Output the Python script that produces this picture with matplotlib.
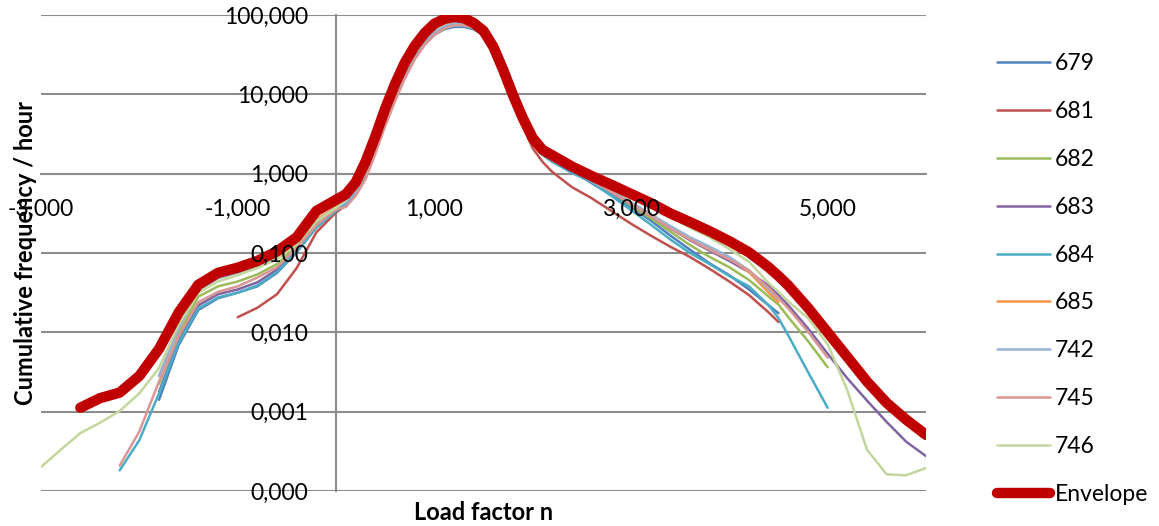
import numpy as np
import matplotlib
matplotlib.use("Agg")
import matplotlib.pyplot as plt
from matplotlib.ticker import FixedLocator, FuncFormatter, NullLocator

# Load factor grid shared by all series (None = no data at that point)
load_factor = [-3.0, -2.8, -2.6, -2.4, -2.2, -2.0, -1.8, -1.6, -1.4, -1.2, -1.0, -0.8, -0.6, -0.4, -0.2, 0.0,
               0.1, 0.2, 0.3, 0.4, 0.5, 0.6, 0.7, 0.8, 0.9, 1.0, 1.1, 1.2, 1.3, 1.4, 1.5, 1.6, 1.7, 1.8, 1.9, 2.0, 2.1, 2.2,
               2.4, 2.6, 2.8, 3.0, 3.2, 3.4, 3.6, 3.8, 4.0, 4.2, 4.4,
               4.5, 4.6, 4.8, 5.0, 5.2, 5.4, 5.6, 5.8, 6.0]

s679 = [None, None, None, None, None, None, 0.00141, 0.00692, 0.0191, 0.0269, 0.0316, 0.038, 0.0562, 0.102, 0.209, 0.339,
        0.398, 0.55, 0.912, 1.95, 4.37, 8.91, 17.0, 28.8, 42.7, 56.2, 66.1, 70.8, 70.8, 66.1, 55.6, 38.0, 20.0, 9.33, 4.57, 2.51, 1.74, 1.41,
        1.10, 0.759, 0.537, 0.38, 0.257, 0.166, 0.110, 0.0741, 0.0525, 0.0347, 0.0219,
        0.0174, None, None, None, None, None, None, None, None]

s681 = [None, None, None, None, None, None, None, None, None, None, 0.0155, 0.0204, 0.0302, 0.0646, 0.182, 0.324,
        0.398, 0.55, 0.912, 1.95, 4.37, 8.91, 17.0, 28.8, 43.7, 58.9, 69.2, 74.1, 73.3, 67.6, 56.2, 38.0, 19.5, 8.91, 3.98, 2.09, 1.41, 1.05,
        0.676, 0.49, 0.339, 0.234, 0.166, 0.12, 0.0891, 0.0631, 0.0437, 0.0295, 0.0178,
        0.0135, None, None, None, None, None, None, None, None]

s682 = [None, None, None, None, None, None, 0.00224, 0.00955, 0.0282, 0.038, 0.0437, 0.0537, 0.0724, 0.12, 0.234, 0.363,
        0.457, 0.631, 1.05, 2.24, 5.01, 10.2, 19.5, 33.1, 49.0, 64.6, 75.9, 82.2, 81.3, 75.0, 60.3, 38.9, 20.0, 9.55, 4.68, 2.63, 1.86, 1.48,
        1.12, 0.832, 0.589, 0.398, 0.275, 0.186, 0.126, 0.0891, 0.0661, 0.0457, 0.0282,
        0.0224, 0.0155, 0.00776, 0.00363, None, None, None, None, None]

s683 = [None, None, None, None, None, None, 0.00178, 0.00794, 0.0219, 0.0302, 0.0347, 0.0427, 0.0617, 0.110, 0.219, 0.347,
        0.427, 0.589, 0.977, 2.09, 4.68, 9.55, 18.2, 30.9, 45.7, 60.3, 70.8, 76.7, 75.9, 70.8, 58.9, 38.9, 20.0, 9.55, 4.68, 2.63, 1.86, 1.48,
        1.12, 0.813, 0.589, 0.417, 0.295, 0.204, 0.145, 0.107, 0.0794, 0.0575, 0.0389,
        0.0295, 0.0219, 0.0112, 0.00537, 0.00263, 0.00138, 0.000741, 0.000417, 0.000275]

s684 = [None, None, None, None, 0.000182, 0.000437, 0.0017, 0.00741, 0.02, 0.0275, 0.0316, 0.0389, 0.0575, 0.105, 0.209, 0.339,
        0.407, 0.562, 0.933, 2.0, 4.47, 9.12, 17.4, 29.5, 43.7, 57.5, 67.6, 73.3, 72.4, 67.6, 56.2, 38.0, 20.0, 9.33, 4.57, 2.51, 1.74, 1.41,
        1.02, 0.78, 0.525, 0.347, 0.229, 0.148, 0.100, 0.0724, 0.0513, 0.038, 0.0219,
        0.0151, 0.00912, 0.00316, 0.00112, None, None, None, None, None]

s685 = [None, None, None, None, None, None, 0.00282, 0.0112, 0.0347, 0.049, 0.0575, 0.0692, 0.0891, 0.138, 0.263, 0.38,
        0.447, 0.617, 1.02, 2.19, 4.90, 10.0, 19.1, 32.4, 47.9, 63.1, 74.1, 80.4, 79.4, 74.1, 60.3, 38.9, 20.0, 9.55, 4.68, 2.63, 1.86, 1.48,
        1.12, 0.832, 0.603, 0.427, 0.302, 0.214, 0.155, 0.117, 0.0871, 0.0575, 0.0316,
        0.024, None, None, None, None, None, None, None, None]

s742 = [None, None, None, None, None, None, 0.00282, 0.0112, 0.0339, 0.0479, 0.0562, 0.0676, 0.0851, 0.132, 0.251, 0.372,
        0.437, 0.603, 1.00, 2.14, 4.79, 9.77, 18.6, 31.6, 46.8, 61.7, 72.4, 78.5, 77.6, 72.4, 60.3, 38.9, 20.0, 9.55, 4.68, 2.63, 1.91, 1.51,
        1.15, 0.851, 0.617, 0.437, 0.309, 0.219, 0.158, 0.120, 0.0891, 0.0603, 0.0347,
        0.0263, None, None, None, None, None, None, None, None]

s745 = [None, None, None, None, 0.000209, 0.000562, 0.0024, 0.00891, 0.024, 0.0324, 0.038, 0.049, 0.0661, 0.115, 0.224, 0.355,
        0.38, 0.525, 0.851, 1.78, 3.98, 8.13, 15.8, 27.5, 41.7, 56.2, 67.6, 74.1, 74.1, 69.2, 57.5, 38.5, 20.0, 9.55, 4.68, 2.63, 1.86, 1.48,
        1.12, 0.813, 0.589, 0.417, 0.295, 0.204, 0.148, 0.110, 0.0832, 0.0603, 0.0363,
        0.0269, 0.02, 0.0102, 0.00479, None, None, None, None, None]

s746 = [0.0002, 0.000331, 0.000537, 0.000724, 0.00102, 0.0017, 0.00355, 0.0126, 0.0316, 0.0437, 0.0525, 0.0646, 0.0832, 0.129, 0.251, 0.372,
        0.468, 0.646, 1.07, 2.29, 5.13, 10.5, 20.0, 33.9, 50.1, 66.1, 77.6, 84.1, 83.2, 76.7, 61.7, 39.4, 20.0, 9.55, 4.79, 2.69, 1.91, 1.58,
        1.17, 0.891, 0.676, 0.513, 0.389, 0.282, 0.209, 0.158, 0.112, 0.0776, 0.0417,
        0.0324, 0.0245, 0.0151, 0.00708, 0.00186, 0.000331, 0.000162, 0.000158, 0.000195]

envelope = [None, None, 0.00112, 0.00148, 0.00174, 0.00282, 0.00617, 0.0178, 0.0398, 0.0562, 0.0653, 0.0794, 0.105, 0.158, 0.339, 0.468,
            0.550, 0.776, 1.41, 2.95, 6.61, 13.5, 25.1, 40.7, 58.9, 77.6, 89.1, 94.4, 91.2, 79.4, 63.1, 39.8, 20.4, 9.77, 5.01, 2.82, 2.00, 1.70,
            1.23, 0.933, 0.724, 0.556, 0.427, 0.316, 0.245, 0.188, 0.141, 0.102, 0.0661,
            0.0513, 0.0389, 0.0204, 0.0100, 0.0049, 0.0024, 0.00129, 0.00079, 0.00051]

x_ticks = [-3, -1, 1, 3, 5]
y_ticks = [0.0001, 0.001, 0.01, 0.1, 1, 10, 100]

plt.rcParams['font.family'] = ['Lato', 'DejaVu Sans']

fig = plt.figure(figsize=(11.59, 5.26), dpi=100)
ax = fig.add_axes([41 / 1159, 35 / 526, 885 / 1159, 476 / 526])

series = [
    ("679", s679, "#4F81BD"),
    ("681", s681, "#C0504D"),
    ("682", s682, "#9BBB59"),
    ("683", s683, "#8064A2"),
    ("684", s684, "#4BACC6"),
    ("685", s685, "#F79646"),
    ("742", s742, "#95B3D7"),
    ("745", s745, "#D99694"),
    ("746", s746, "#C3D69B"),
]

x = np.array(load_factor, dtype=float)
for name, vals, col in series:
    ax.plot(x, np.array(vals, dtype=float), color=col, lw=1.8, label=name, zorder=2,
            solid_capstyle='round', solid_joinstyle='round')
ax.plot(x, np.array(envelope, dtype=float), color='#C00000', lw=7.5, label='Envelope', zorder=2.2,
        solid_capstyle='round', solid_joinstyle='round')

ax.set_yscale('log')
ax.set_xlim(-3, 6)
ax.set_ylim(1e-4, 100)

# gridlines under the curves, tick labels above them
ax.grid(False)
for yv in y_ticks:
    ax.axhline(yv, color='#8c8c8c', lw=1.5, zorder=1)
ax.set_axisbelow(False)

ax.xaxis.set_major_locator(FixedLocator(x_ticks))
ax.yaxis.set_major_locator(FixedLocator(y_ticks))
ax.yaxis.set_minor_locator(NullLocator())
ax.xaxis.set_minor_locator(NullLocator())
fmt = FuncFormatter(lambda v, p: f"{v:.3f}".replace('.', ','))
ax.xaxis.set_major_formatter(fmt)
ax.yaxis.set_major_formatter(fmt)
ax.tick_params(axis='x', length=0, pad=18, labelsize=16.5, labelcolor='black')
ax.tick_params(axis='y', length=0, pad=20, labelsize=16.5, labelcolor='black')

for side in ['top', 'right']:
    ax.spines[side].set_visible(False)
ax.spines['left'].set_position(('data', 0))
ax.spines['bottom'].set_position(('data', 1))
for side in ['left', 'bottom']:
    ax.spines[side].set_color('#8c8c8c')
    ax.spines[side].set_linewidth(1.5)
    ax.spines[side].set_zorder(1)

ax.set_xlabel('Load factor n', fontsize=17, fontweight='bold')
ax.xaxis.set_label_coords(0.5, -0.02)
ax.set_ylabel('Cumulative frequency / hour', fontsize=17, fontweight='bold')
ax.yaxis.set_label_coords(-0.004, 0.5)

handles, labels = ax.get_legend_handles_labels()
fig.legend(handles, labels, loc='center left', bbox_to_anchor=(997 / 1159, 1 - 279 / 526),
           frameon=False, fontsize=16.5, handlelength=2.3, handletextpad=0.22,
           labelspacing=1.17, borderaxespad=0, borderpad=0)

fig.savefig('out.png', dpi=100)
